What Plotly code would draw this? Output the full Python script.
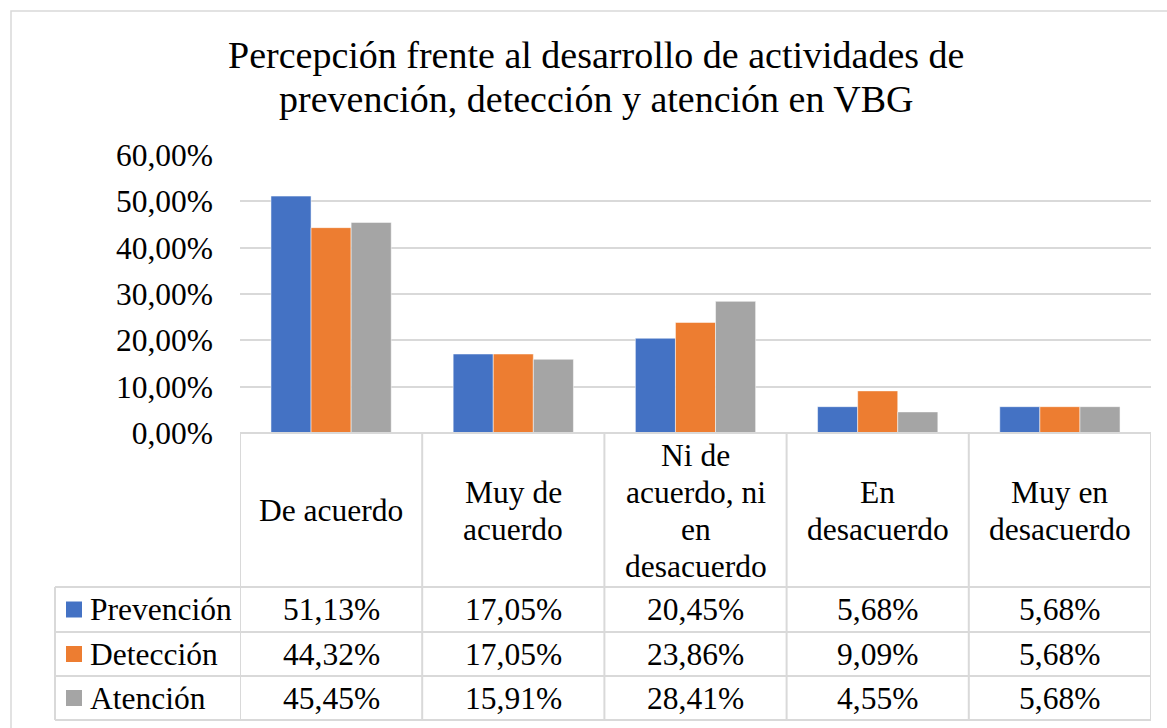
import plotly.graph_objects as go

categories = ["De acuerdo", "Muy de acuerdo", "Ni de acuerdo, ni en desacuerdo", "En desacuerdo", "Muy en desacuerdo"]
header_lines = [["De acuerdo"], ["Muy de", "acuerdo"], ["Ni de", "acuerdo, ni", "en", "desacuerdo"],
                ["En", "desacuerdo"], ["Muy en", "desacuerdo"]]
series_names = ["Prevención", "Detección", "Atención"]
prevencion = [51.13, 17.05, 20.45, 5.68, 5.68]
deteccion = [44.32, 17.05, 23.86, 9.09, 5.68]
atencion = [45.45, 15.91, 28.41, 4.55, 5.68]
series_values = [prevencion, deteccion, atencion]
colors = ["#4472C4", "#ED7D31", "#A5A5A5"]
title_lines = ["Percepción frente al desarrollo de actividades de", "prevención, detección y atención en VBG"]

W, H = 1167, 728
FONT = "Liberation Serif"
GRID = "#d9d9d9"
TXT = 31.5


def px(x):
    return x / W


def py(y):
    return 1 - y / H


fig = go.Figure()
xs = list(range(len(categories)))
for name, vals, col in zip(series_names, series_values, colors):
    fig.add_trace(go.Bar(
        x=xs, y=vals, name=name,
        marker=dict(color=col, line=dict(color="rgba(255,255,255,0.5)", width=1)),
        showlegend=False,
    ))

shapes = []
annotations = []

# outer chart border
shapes.append(dict(type="rect", xref="paper", yref="paper", x0=px(11), x1=px(1190), y0=py(11), y1=py(760),
                   line=dict(color=GRID, width=1.5), fillcolor="rgba(0,0,0,0)", layer="below"))

# title (two lines)
for line, yc in zip(title_lines, [55, 99]):
    annotations.append(dict(x=px(596), y=py(yc), xref="paper", yref="paper", text=line, showarrow=False,
                            font=dict(family=FONT, size=38, color="black"), xanchor="center", yanchor="middle"))

# table geometry (rows in pixels)
header_top, header_bot = 433, 587
row_bounds = [587, 632, 676, 720]
legend_left = 55
n = len(categories)

shapes.append(dict(type="line", xref="x", yref="paper", x0=-0.5, x1=n - 0.5, y0=py(header_top), y1=py(header_top),
                   line=dict(color=GRID, width=2)))
for k in range(n + 1):
    shapes.append(dict(type="line", xref="x", yref="paper", x0=k - 0.5, x1=k - 0.5,
                       y0=py(header_top), y1=py(row_bounds[-1]), line=dict(color=GRID, width=2)))
for yb in row_bounds:
    shapes.append(dict(type="line", xref="paper", yref="paper", x0=px(legend_left), x1=px(1151),
                       y0=py(yb), y1=py(yb), line=dict(color=GRID, width=2)))
shapes.append(dict(type="line", xref="paper", yref="paper", x0=px(legend_left), x1=px(legend_left),
                   y0=py(row_bounds[0]), y1=py(row_bounds[-1]), line=dict(color=GRID, width=2)))

# header labels, one annotation per line, 37 px line spacing
header_center = 511
for i, lines in enumerate(header_lines):
    m = len(lines)
    for j, ln in enumerate(lines):
        yc = header_center + (j - (m - 1) / 2) * 37
        annotations.append(dict(x=i, y=py(yc), xref="x", yref="paper",
                                text=ln, showarrow=False, font=dict(family=FONT, size=TXT, color="black"),
                                xanchor="center", yanchor="middle"))

for r, (name, vals, col) in enumerate(zip(series_names, series_values, colors)):
    yc = (row_bounds[r] + row_bounds[r + 1]) / 2
    shapes.append(dict(type="rect", xref="paper", yref="paper", x0=px(66), x1=px(82),
                       y0=py(yc + 8), y1=py(yc - 8), fillcolor=col, line=dict(width=0)))
    annotations.append(dict(x=px(88), y=py(yc), xref="paper", yref="paper", text=name, showarrow=False,
                            font=dict(family=FONT, size=TXT, color="black"), xanchor="left", yanchor="middle"))
    for i, v in enumerate(vals):
        annotations.append(dict(x=i, y=py(yc), xref="x", yref="paper",
                                text=f"{v:.2f}%".replace(".", ","), showarrow=False,
                                font=dict(family=FONT, size=TXT, color="black"), xanchor="center", yanchor="middle"))

fig.update_layout(
    width=W, height=H,
    margin=dict(l=0, r=0, t=0, b=0, autoexpand=False),
    paper_bgcolor="white", plot_bgcolor="white",
    separators=",.",
    barmode="group", bargap=0.34, bargroupgap=0,
    xaxis=dict(domain=[px(240), px(1151)], range=[-0.5, n - 0.5], showticklabels=False,
               showgrid=False, zeroline=False, showline=False, fixedrange=True, automargin=False),
    yaxis=dict(domain=[py(433), py(155)], range=[0, 60], dtick=10, tickformat=".2f", ticksuffix="%",
               showgrid=True, gridcolor=GRID, gridwidth=1.5, zeroline=False, showline=False,
               ticks="", ticklabelstandoff=26, automargin=False,
               tickfont=dict(family=FONT, size=TXT, color="black")),
    shapes=shapes,
    annotations=annotations,
    font=dict(family=FONT, color="black"),
)

fig.write_html("out.html", config={"displayModeBar": False},
               post_script="document.body.style.margin='0';document.body.style.overflow='hidden';")
